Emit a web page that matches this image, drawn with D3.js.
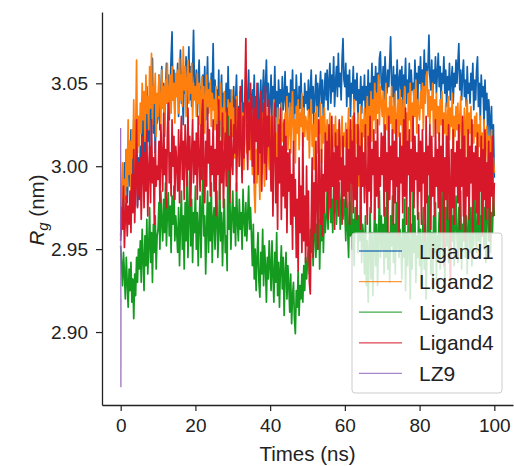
<!DOCTYPE html>
<html>
<head>
<meta charset="utf-8">
<script src="https://cdn.jsdelivr.net/npm/d3@7"></script>
<style>
  body { margin: 0; background: #fff; }
  svg { display: block; font-family: "Liberation Sans", Arial, sans-serif; }
</style>
</head>
<body>
<div id="chart"></div>
<script>
// Rg values in pm (2958 = 2.958 nm), one sample every 0.25 ns from 0 to 100 ns
// one row = 5 ns
const times = d3.range(0, 100.125, 0.25);

const ligand1 = [
  2958, 2975, 2990, 2968, 3002, 2985, 3010, 2978, 2995, 3015, 2988, 3022, 3000, 2982, 3028, 3008, 2990, 3018, 2976, 3005,
  2980, 3012, 2995, 3030, 3018, 3040, 3005, 3025, 3048, 3015, 3035, 3010, 3052, 3028, 3065, 3020, 3042, 3008, 3038, 3026,
  3030, 3055, 3022, 3046, 3060, 3035, 3050, 3018, 3044, 3062, 3038, 3055, 3028, 3048, 3066, 3081, 3040, 3058, 3032, 3052,
  3045, 3062, 3030, 3055, 3070, 3038, 3050, 3025, 3058, 3044, 3066, 3035, 3052, 3072, 3040, 3060, 3036, 3056, 3082, 3048,
  3040, 3058, 3030, 3052, 3064, 3035, 3048, 3022, 3055, 3040, 3060, 3028, 3045, 3066, 3032, 3050, 3038, 3056, 3044, 3074,
  3036, 3052, 3025, 3046, 3030, 3058, 3018, 3040, 3055, 3028, 3044, 3012, 3038, 3050, 3022, 3060, 3034, 3046, 3015, 3042,
  3028, 3048, 3015, 3040, 3055, 3024, 3036, 3008, 3045, 3030, 3052, 3018, 3038, 3026, 3050, 3012, 3042, 3058, 3030, 3044,
  3022, 3046, 3035, 3055, 3018, 3042, 3030, 3050, 3014, 3038, 3052, 3026, 3044, 3058, 3032, 3048, 3064, 3036, 3050, 3028,
  3040, 3055, 3025, 3048, 3036, 3060, 3030, 3045, 3018, 3052, 3038, 3046, 3026, 3054, 3034, 3042, 3057, 3030, 3048, 3036,
  3044, 3028, 3052, 3036, 3058, 3024, 3046, 3032, 3055, 3040, 3020, 3048, 3035, 3056, 3030, 3042, 3026, 3050, 3038, 3045,
  3034, 3052, 3028, 3046, 3058, 3032, 3048, 3025, 3042, 3055, 3036, 3050, 3030, 3046, 3057, 3038, 3052, 3028, 3044, 3056,
  3040, 3058, 3034, 3052, 3062, 3038, 3055, 3045, 3066, 3036, 3050, 3060, 3042, 3068, 3048, 3056, 3040, 3064, 3077, 3052,
  3048, 3062, 3036, 3055, 3042, 3058, 3030, 3050, 3044, 3060, 3034, 3052, 3040, 3056, 3028, 3046, 3038, 3054, 3032, 3048,
  3040, 3055, 3030, 3048, 3036, 3058, 3028, 3050, 3042, 3062, 3035, 3054, 3046, 3060, 3038, 3056, 3044, 3065, 3069, 3050,
  3046, 3060, 3040, 3066, 3052, 3044, 3058, 3048, 3062, 3078, 3050, 3042, 3060, 3036, 3055, 3046, 3064, 3040, 3052, 3058,
  3042, 3060, 3035, 3055, 3048, 3065, 3038, 3052, 3044, 3062, 3036, 3058, 3046, 3050, 3040, 3064, 3048, 3056, 3038, 3060,
  3050, 3066, 3042, 3058, 3048, 3070, 3044, 3062, 3052, 3060, 3079, 3054, 3046, 3064, 3040, 3058, 3050, 3066, 3044, 3056,
  3068, 3048, 3060, 3040, 3056, 3050, 3066, 3044, 3058, 3036, 3054, 3046, 3062, 3040, 3052, 3060, 3038, 3056, 3048, 3064,
  3050, 3062, 3074, 3046, 3058, 3040, 3055, 3064, 3042, 3052, 3036, 3060, 3044, 3050, 3038, 3056, 3046, 3062, 3034, 3052,
  3040, 3058, 3066, 3036, 3050, 3028, 3055, 3042, 3048, 3024, 3052, 3034, 3044, 3018, 3040, 3030, 3010, 3036, 3002, 3025,
  2993
];

const ligand2 = [
  2965, 2985, 3002, 2975, 2992, 2980, 3010, 2988, 3028, 2995, 3015, 2985, 3022, 3005, 3040, 2998, 3018, 3064, 3008, 3030,
  3012, 3038, 3020, 3050, 3028, 3045, 3015, 3055, 3032, 3042, 3022, 3060, 3035, 3068, 3025, 3048, 3038, 3056, 3018, 3044,
  3030, 3055, 3040, 3025, 3058, 3035, 3048, 3020, 3052, 3038, 3062, 3028, 3045, 3055, 3032, 3060, 3040, 3050, 3026, 3056,
  3042, 3058, 3032, 3065, 3040, 3055, 3036, 3072, 3046, 3060, 3030, 3052, 3064, 3038, 3056, 3044, 3062, 3028, 3050, 3040,
  3048, 3030, 3056, 3038, 3050, 3025, 3045, 3054, 3032, 3048, 3020, 3042, 3055, 3030, 3046, 3036, 3052, 3024, 3044, 3034,
  3040, 3022, 3048, 3030, 3015, 3042, 3028, 3050, 3010, 3035, 3024, 3045, 3005, 3032, 3020, 3040, 3012, 3038, 3026, 3046,
  3018, 3035, 3005, 3028, 3042, 3012, 3030, 3000, 3025, 3038, 3010, 3032, 2998, 3022, 3036, 3008, 3028, 3015, 3040, 3004,
  3022, 2995, 3030, 2985, 2972, 3010, 2990, 3025, 3002, 2980, 3018, 2995, 3032, 3008, 2988, 3020, 3000, 3035, 3012, 2998,
  3015, 3030, 2998, 3025, 3040, 3005, 3020, 2992, 3035, 3012, 3028, 3000, 3038, 3015, 3026, 3006, 3032, 3018, 3042, 3010,
  3022, 3038, 3008, 3030, 3045, 3015, 3028, 3002, 3036, 3020, 3040, 3010, 3032, 3024, 3044, 3012, 3035, 3018, 3030, 3026,
  3016, 3034, 3005, 3028, 3040, 3012, 3025, 2998, 3032, 3018, 3036, 3008, 3026, 3020, 3038, 3002, 3030, 3014, 3035, 3022,
  3010, 3028, 2995, 3020, 3032, 3005, 3018, 2990, 3025, 3012, 3030, 3000, 3022, 3008, 3026, 2994, 3015, 3030, 3004, 3020,
  3012, 3026, 2990, 3018, 3035, 3000, 3022, 2985, 3030, 3008, 3040, 2995, 3025, 3014, 3032, 2988, 3020, 3036, 3002, 3028,
  3018, 3035, 3005, 3030, 3042, 3012, 3036, 3022, 3045, 3015, 3040, 3028, 3050, 3020, 3044, 3032, 3055, 3025, 3048, 3038,
  3030, 3045, 3015, 3038, 3050, 3022, 3035, 3008, 3042, 3026, 3048, 3012, 3036, 3020, 3044, 3004, 3030, 3040, 3018, 3046,
  3025, 3040, 3010, 3035, 3048, 3018, 3032, 3002, 3044, 3028, 3050, 3015, 3038, 3024, 3046, 3030, 3052, 3020, 3040, 3034,
  3028, 3045, 3035, 3050, 3022, 3048, 3038, 3054, 3057, 3030, 3046, 3025, 3042, 3034, 3050, 3018, 3040, 3028, 3044, 3020,
  3036, 3015, 3040, 3025, 3045, 3010, 3032, 3020, 3038, 3005, 3030, 3042, 3016, 3035, 3024, 3044, 3008, 3030, 3018, 3036,
  3022, 3038, 3010, 3030, 3042, 3005, 3026, 3015, 3035, 2998, 3028, 3040, 3012, 3032, 3020, 3036, 3002, 3025, 3014, 3030,
  3018, 3032, 3000, 3025, 3012, 3030, 2995, 3020, 3008, 3028, 2990, 3015, 3024, 3002, 3018, 2994, 3012, 3022, 2988, 3005,
  2996
];

const ligand3 = [
  2952, 2940, 2928, 2948, 2935, 2920, 2945, 2930, 2915, 2938, 2925, 2942, 2918, 2932, 2908, 2935, 2922, 2945, 2930, 2950,
  2938, 2955, 2930, 2962, 2945, 2925, 2958, 2940, 2968, 2935, 2952, 2975, 2942, 2960, 2930, 2965, 2948, 2970, 2938, 2958,
  2962, 2978, 2950, 2985, 2966, 2955, 2980, 2960, 2990, 2952, 2972, 2984, 2958, 2976, 2948, 2982, 2965, 2988, 2955, 2970,
  2960, 2948, 2975, 2940, 2965, 2985, 2950, 2970, 2938, 2978, 2955, 2995, 2945, 2968, 3004, 2952, 2980, 2942, 2972, 2960,
  2988, 2950, 2972, 2940, 2965, 2982, 2945, 2975, 2998, 2958, 2970, 2935, 2962, 2985, 2948, 2978, 2955, 2990, 2942, 2968,
  2975, 2950, 2968, 2985, 2945, 2960, 2992, 2955, 2972, 2940, 2965, 2980, 2948, 2958, 2937, 3030, 2962, 2978, 2950, 2970,
  2985, 2960, 2975, 2952, 2990, 2966, 2955, 2980, 2962, 2972, 2950, 2986, 2968, 2958, 2978, 2955, 2970, 2988, 2962, 2975,
  2958, 2940, 2965, 2932, 2950, 2925, 2945, 2960, 2930, 2921, 2948, 2935, 2962, 2928, 2952, 2940, 2918, 2945, 2932, 2955,
  2940, 2925, 2955, 2935, 2918, 2948, 2930, 2960, 2922, 2942, 2915, 2938, 2952, 2926, 2945, 2910, 2935, 2948, 2920, 2940,
  2928, 2912, 2935, 2905, 2922, 2930, 2908, 2899, 2925, 2915, 2937, 2910, 2928, 2920, 2935, 2918, 2940, 2925, 2945, 2932,
  2942, 2955, 2935, 2962, 2948, 2970, 2940, 2958, 2975, 2945, 2965, 2950, 2980, 2938, 2968, 2955, 2988, 2948, 2972, 2960,
  2970, 2985, 2962, 2978, 2992, 2966, 2980, 2960, 2988, 2972, 2995, 2965, 2982, 2975, 2990, 2962, 2978, 2986, 2968, 2980,
  2972, 2955, 2985, 2962, 2945, 2978, 2958, 2990, 2950, 2968, 2940, 2975, 2960, 2982, 2948, 2970, 2955, 2986, 2942, 2965,
  2958, 2935, 2970, 2928, 2955, 2918, 2948, 2975, 2932, 2960, 2922, 2952, 2980, 2940, 2965, 2928, 2958, 2985, 2945, 2970,
  2950, 2965, 2935, 2975, 2945, 2988, 2938, 2960, 2930, 2970, 2952, 2982, 2942, 2965, 2935, 2978, 2950, 2990, 2945, 2962,
  2955, 2932, 2968, 2945, 2980, 2925, 2960, 2940, 2975, 2950, 2920, 2965, 2938, 2985, 2948, 2970, 2930, 2958, 2945, 2972,
  2940, 2962, 2928, 2955, 2975, 2938, 2965, 2920, 2950, 2982, 2945, 2998, 2935, 2960, 2925, 2970, 2948, 2978, 2932, 2958,
  2950, 2972, 2938, 2965, 2985, 2945, 2960, 2930, 2975, 2952, 2990, 2942, 2968, 2935, 2980, 2955, 2970, 2940, 2962, 2982,
  2958, 2942, 2975, 2950, 2985, 2938, 2965, 2955, 2990, 2945, 2970, 2935, 2962, 2980, 2948, 2975, 2940, 2968, 2952, 2985,
  2962, 2948, 2978, 2955, 2990, 2945, 2970, 2958, 2985, 2950, 2975, 2942, 2968, 2995, 2955, 2980, 2948, 2972, 2960, 2985,
  2970
];

const ligand4 = [
  2955, 2975, 2962, 2988, 2951, 2970, 2982, 2958, 2976, 2965, 2985, 2960, 2995, 2972, 3010, 2966, 2990, 3028, 2975, 3002,
  2982, 3005, 2968, 2995, 3018, 2975, 3008, 2985, 3022, 2970, 2998, 3012, 2978, 3028, 2990, 3005, 2965, 3015, 2988, 3000,
  2992, 3015, 2978, 3025, 3005, 2985, 3032, 2995, 3010, 2975, 3020, 3038, 2990, 3008, 2982, 3028, 3000, 3018, 2980, 3012,
  3002, 2985, 3022, 2978, 3010, 3030, 2992, 3015, 2980, 3025, 3005, 2988, 3035, 2998, 3018, 2976, 3008, 3028, 2990, 3015,
  2995, 3020, 2980, 3030, 3005, 2985, 3025, 2992, 3040, 3000, 2978, 3015, 2988, 3035, 3002, 3022, 2982, 3012, 2995, 3028,
  2985, 3010, 2970, 3025, 2995, 3040, 2980, 3015, 2990, 3032, 2975, 3005, 3020, 2988, 3035, 2998, 3018, 2978, 3028, 3002,
  2995, 3025, 3008, 3040, 2985, 3018, 3035, 3000, 3048, 3012, 2990, 3030, 3005, 3045, 3077, 3020, 2998, 3038, 3010, 3050,
  3025, 3000, 3042, 2990, 3035, 3015, 3050, 2995, 3028, 3008, 3045, 2985, 3020, 3038, 3002, 3048, 2992, 3030, 3012, 3040,
  3010, 2985, 3030, 2970, 3015, 3038, 2978, 3005, 2962, 3025, 2990, 3035, 2968, 3012, 2982, 3028, 2975, 3018, 2960, 3008,
  2985, 3010, 2965, 2995, 2950, 3015, 2970, 2992, 2945, 2980, 2937, 3005, 2960, 2988, 2948, 3020, 2955, 2982, 2942, 3000,
  2952, 2985, 2930, 2923, 2968, 3005, 2945, 2990, 2960, 3015, 2975, 2950, 3028, 2982, 2965, 3010, 2958, 2995, 2972, 3020,
  2985, 3015, 2968, 3025, 2995, 2975, 3030, 2988, 3008, 2962, 3020, 2980, 3012, 2970, 3028, 2992, 3005, 2965, 3018, 2982,
  3000, 2975, 3022, 2985, 3010, 2965, 3028, 2990, 3015, 2972, 3032, 2980, 3005, 2968, 3025, 2995, 3012, 2962, 3020, 2988,
  3008, 2978, 3025, 2990, 2965, 3018, 2985, 3030, 2972, 3010, 2995, 3022, 2968, 3015, 2982, 3028, 2975, 3005, 2988, 3020,
  2995, 3018, 2970, 3025, 2985, 3008, 2960, 3030, 2980, 3012, 2992, 3022, 2965, 3015, 2978, 3028, 2988, 3005, 2958, 3020,
  2990, 3012, 2972, 3028, 2982, 3035, 2965, 3015, 2995, 3022, 2960, 3010, 2985, 3030, 2975, 3018, 2992, 3008, 2968, 3025,
  2985, 3015, 2965, 3022, 2990, 3008, 2955, 3030, 2978, 3012, 2995, 3025, 2962, 3018, 2982, 3005, 2970, 3028, 2988, 3010,
  2975, 3020, 2960, 3012, 2985, 3028, 2940, 3005, 2980, 3018, 2968, 3025, 2992, 2927, 3010, 2975, 3022, 2965, 3008, 2988,
  3015, 2978, 3025, 2962, 3010, 2988, 3030, 2970, 3018, 2955, 3005, 2982, 3022, 2968, 3012, 2990, 3028, 2960, 3008, 2980,
  3012, 2972, 3020, 2965, 3005, 2985, 3018, 2958, 3010, 2980, 3022, 2968, 3002, 2975, 3015, 2955, 3008, 2982, 3018, 2970,
  2990
];

// LZ9 only covers the first instant of the run
const lz9Times = [0, 0.02, 0.04, 0.06, 0.08];
const lz9 = [3023, 2955, 2990, 2867, 2920];

const names = ["Ligand1", "Ligand2", "Ligand3", "Ligand4", "LZ9"];
const colors = ["#0f62b0", "#ff7f0e", "#139a1f", "#d6182a", "#9467bd"];

const yTicks = [2.90, 2.95, 3.00, 3.05];
const xTicks = [0, 20, 40, 60, 80, 100];

const width = 514;
const height = 466;

const x = d3.scaleLinear().domain([-5, 105]).range([102, 513]);
const y = d3.scaleLinear().domain([2.856, 3.093]).range([405, 12]);

const svg = d3.select("#chart").append("svg")
  .attr("width", width)
  .attr("height", height);

const series = [
  { t: times, v: ligand1 },
  { t: times, v: ligand2 },
  { t: times, v: ligand3 },
  { t: times, v: ligand4 },
  { t: lz9Times, v: lz9 },
];

const line = (s) => d3.line()
  .x((d, i) => x(s.t[i]))
  .y(d => y(d / 1000))(s.v);

svg.append("g")
    .attr("fill", "none")
    .attr("stroke-linejoin", "round")
  .selectAll("path")
  .data(series)
  .join("path")
    .attr("stroke", (d, i) => colors[i])
    .attr("stroke-width", (d, i) => i === 4 ? 1.2 : 1.7)
    .attr("d", d => line(d));

// axes
const yAxis = svg.append("g")
  .attr("transform", "translate(102,0)")
  .call(d3.axisLeft(y).tickValues(yTicks).tickFormat(d3.format(".2f")).tickSize(6).tickSizeOuter(0).tickPadding(8));

const xAxis = svg.append("g")
  .attr("transform", "translate(0,405)")
  .call(d3.axisBottom(x).tickValues(xTicks).tickSize(6).tickSizeOuter(0).tickPadding(8));

[yAxis, xAxis].forEach(g => {
  g.selectAll("text").attr("font-size", 19).attr("fill", "#222").attr("font-family", "Liberation Sans, Arial, sans-serif");
  g.selectAll("line").attr("stroke", "#222").attr("stroke-width", 1.2);
  g.select(".domain").attr("stroke", "#222").attr("stroke-width", 1.3);
});

svg.append("text")
  .attr("x", x(50))
  .attr("y", 461)
  .attr("text-anchor", "middle")
  .attr("font-size", 20.5)
  .attr("fill", "#222")
  .text("Times (ns)");

const yl = svg.append("text")
  .attr("transform", "translate(44,210) rotate(-90)")
  .attr("text-anchor", "middle")
  .attr("font-size", 20.5)
  .attr("fill", "#222");
yl.append("tspan").attr("font-style", "italic").text("R");
yl.append("tspan").attr("font-style", "italic").attr("font-size", 15).attr("dy", 4).text("g");
yl.append("tspan").attr("dy", -4).text(" (nm)");

// legend
const legend = svg.append("g");
legend.append("rect")
  .attr("x", 352).attr("y", 233)
  .attr("width", 150).attr("height", 160)
  .attr("rx", 3)
  .attr("fill", "#fff").attr("fill-opacity", 0.8)
  .attr("stroke", "#ccc").attr("stroke-width", 1);

const item = legend.selectAll("g.item")
  .data(names)
  .join("g")
    .attr("class", "item")
    .attr("transform", (d, i) => `translate(0,${251 + i * 30.6})`);

item.append("line")
  .attr("x1", 359).attr("x2", 402)
  .attr("stroke", (d, i) => colors[i])
  .attr("stroke-opacity", 0.8)
  .attr("stroke-width", 1.3);

item.append("text")
  .attr("x", 419).attr("y", 7.5)
  .attr("font-size", 21)
  .attr("fill", "#222")
  .text(d => d);
</script>
</body>
</html>
